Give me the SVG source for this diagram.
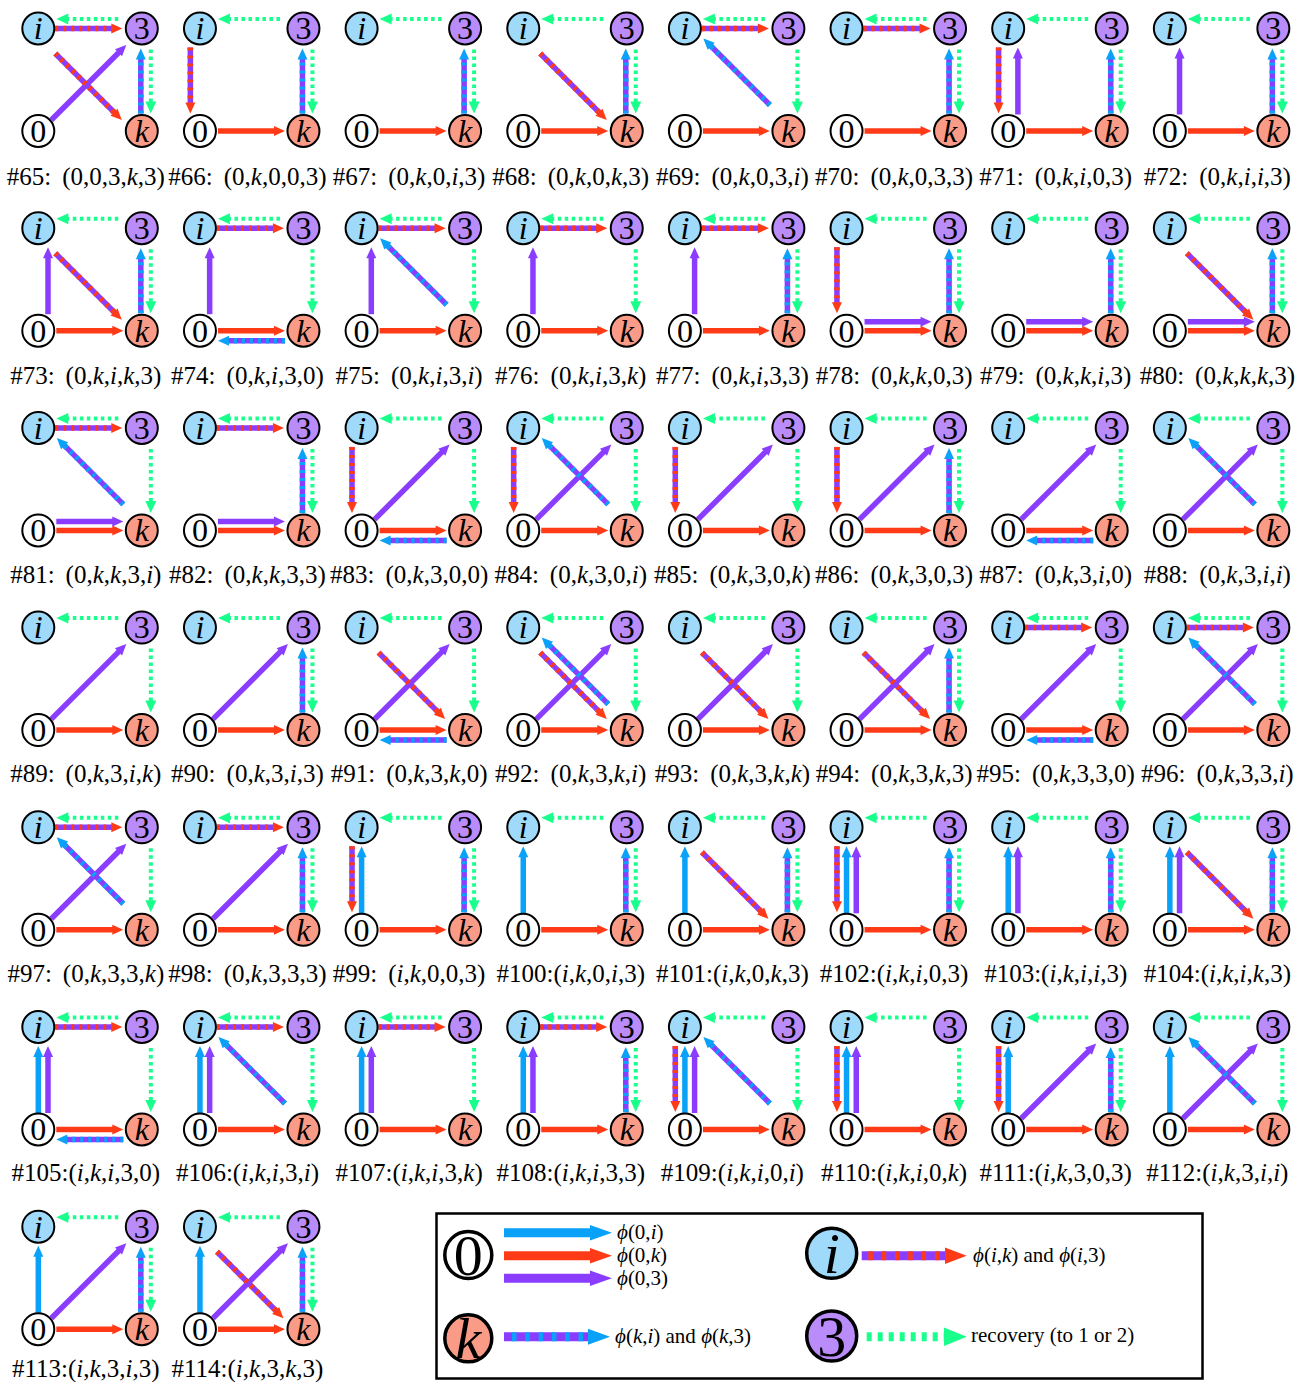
<svg xmlns="http://www.w3.org/2000/svg" width="1309" height="1382" viewBox="0 0 1309 1382">
<style>
.sp{stroke:#8a3cff;stroke-width:5.5}
.sr{stroke:#ff3b17;stroke-width:5.5}
.sb{stroke:#0aa2f8;stroke-width:5.5}
.dr{stroke:#ff3b17;stroke-width:5.5;stroke-dasharray:3 5}
.db{stroke:#0aa2f8;stroke-width:5.5;stroke-dasharray:3 5}
.gl{stroke:#19ff8c;stroke-width:4;stroke-dasharray:3.5 3.5}
.fr{fill:#ff3b17}.fb{fill:#0aa2f8}.fp{fill:#8a3cff}.fg{fill:#19ff8c}
circle{stroke:#000;stroke-width:2}
.ci{fill:#a0dafa}.c3{fill:#b98cfa}.ck{fill:#fa9b87}.c0{fill:#fff}
.nt{font-family:"Liberation Serif","Times New Roman",serif;font-size:32px;text-anchor:middle;fill:#000}
.it{font-style:italic}
.lb{font-family:"Liberation Serif","Times New Roman",serif;font-size:25px;text-anchor:middle;fill:#000}
.lg{font-family:"Liberation Serif","Times New Roman",serif;font-size:21px;fill:#000}
.big{font-family:"Liberation Serif","Times New Roman",serif;font-size:58px;text-anchor:middle;fill:#000}
.lc{stroke:#000;stroke-width:3.5}
</style>
<defs>
<g id="gt"><line class="gl" x1="80" y1="-9.5" x2="29" y2="-9.5"/><polygon class="fg" points="18,-9.5 30,-15 30,-4"/></g>
<g id="gr"><line class="gl" x1="112.5" y1="21" x2="112.5" y2="74"/><polygon class="fg" points="112.5,85 107,73 118,73"/></g>
<g id="r0k"><line class="sr" x1="18" y1="102.5" x2="75" y2="102.5"/><polygon class="fr" points="85,102.5 74,97.5 74,107.5"/></g>
<g id="p0k"><line class="sp" x1="18" y1="93.5" x2="75" y2="93.5"/><polygon class="fp" points="85,93.5 74,88.5 74,98.5"/></g>
<g id="b0i"><line class="sb" x1="0" y1="86" x2="0" y2="29"/><polygon class="fb" points="0,19 -5,30 5,30"/></g>
<g id="p0i"><line class="sp" x1="9.7" y1="86" x2="9.7" y2="29"/><polygon class="fp" points="9.7,19 4.7,30 14.7,30"/></g>
<g id="p03"><line class="sp" x1="13" y1="91.5" x2="81.5" y2="23"/><polygon class="fp" points="88,16.5 83.76,27.82 76.68,20.74"/></g>
<g id="dik"><line class="sp" x1="17" y1="25" x2="77" y2="85"/><line class="dr" x1="17" y1="25" x2="77" y2="85"/><polygon class="fr" points="83.5,91.5 72.18,87.26 79.26,80.18"/></g>
<g id="dki"><line class="sp" x1="85" y1="76.5" x2="25" y2="16.5"/><line class="db" x1="85" y1="76.5" x2="25" y2="16.5"/><polygon class="fb" points="18.5,10 29.82,14.24 22.74,21.32"/></g>
<g id="di0"><line class="sp" x1="-9.6" y1="19" x2="-9.6" y2="75"/><line class="dr" x1="-9.6" y1="19" x2="-9.6" y2="75"/><polygon class="fr" points="-9.6,85 -14.6,74 -4.6,74"/></g>
<g id="di3"><line class="sp" x1="17" y1="0" x2="74" y2="0"/><line class="dr" x1="17" y1="0" x2="74" y2="0"/><polygon class="fr" points="84,0 73,-5 73,5"/></g>
<g id="dk3"><line class="sp" x1="102.5" y1="85" x2="102.5" y2="30"/><line class="db" x1="102.5" y1="85" x2="102.5" y2="30"/><polygon class="fb" points="102.5,20 97.5,31 107.5,31"/></g>
<g id="dk0"><line class="sp" x1="85" y1="112.5" x2="28" y2="112.5"/><line class="db" x1="85" y1="112.5" x2="28" y2="112.5"/><polygon class="fb" points="18,112.5 29,107.5 29,117.5"/></g>
</defs>
<rect x="0" y="0" width="1309" height="1382" fill="#fff"/>

<g id="connectors">
<g id="e65" transform="translate(38.3,28.5)"><use href="#gt"/><use href="#gr"/><use href="#p03"/><use href="#dik"/><use href="#di3"/><use href="#dk3"/></g>
<g id="e66" transform="translate(199.95,28.5)"><use href="#gt"/><use href="#gr"/><use href="#r0k"/><use href="#di0"/><use href="#dk3"/></g>
<g id="e67" transform="translate(361.6,28.5)"><use href="#gt"/><use href="#gr"/><use href="#r0k"/><use href="#dk3"/></g>
<g id="e68" transform="translate(523.25,28.5)"><use href="#gt"/><use href="#gr"/><use href="#r0k"/><use href="#dik"/><use href="#dk3"/></g>
<g id="e69" transform="translate(684.9,28.5)"><use href="#gt"/><use href="#gr"/><use href="#r0k"/><use href="#di3"/><use href="#dki"/></g>
<g id="e70" transform="translate(846.55,28.5)"><use href="#gt"/><use href="#gr"/><use href="#r0k"/><use href="#di3"/><use href="#dk3"/></g>
<g id="e71" transform="translate(1008.2,28.5)"><use href="#gt"/><use href="#gr"/><use href="#r0k"/><use href="#p0i"/><use href="#di0"/><use href="#dk3"/></g>
<g id="e72" transform="translate(1169.85,28.5)"><use href="#gt"/><use href="#gr"/><use href="#r0k"/><use href="#p0i"/><use href="#dk3"/></g>

<g id="e73" transform="translate(38.3,228.2)"><use href="#gt"/><use href="#gr"/><use href="#r0k"/><use href="#p0i"/><use href="#dik"/><use href="#dk3"/></g>
<g id="e74" transform="translate(199.95,228.2)"><use href="#gt"/><use href="#gr"/><use href="#r0k"/><use href="#p0i"/><use href="#di3"/><use href="#dk0"/></g>
<g id="e75" transform="translate(361.6,228.2)"><use href="#gt"/><use href="#gr"/><use href="#r0k"/><use href="#p0i"/><use href="#di3"/><use href="#dki"/></g>
<g id="e76" transform="translate(523.25,228.2)"><use href="#gt"/><use href="#gr"/><use href="#r0k"/><use href="#p0i"/><use href="#di3"/></g>
<g id="e77" transform="translate(684.9,228.2)"><use href="#gt"/><use href="#gr"/><use href="#r0k"/><use href="#p0i"/><use href="#di3"/><use href="#dk3"/></g>
<g id="e78" transform="translate(846.55,228.2)"><use href="#gt"/><use href="#gr"/><use href="#r0k"/><use href="#p0k"/><use href="#di0"/><use href="#dk3"/></g>
<g id="e79" transform="translate(1008.2,228.2)"><use href="#gt"/><use href="#gr"/><use href="#r0k"/><use href="#p0k"/><use href="#dk3"/></g>
<g id="e80" transform="translate(1169.85,228.2)"><use href="#gt"/><use href="#gr"/><use href="#r0k"/><use href="#p0k"/><use href="#dik"/><use href="#dk3"/></g>

<g id="e81" transform="translate(38.3,427.9)"><use href="#gt"/><use href="#gr"/><use href="#r0k"/><use href="#p0k"/><use href="#di3"/><use href="#dki"/></g>
<g id="e82" transform="translate(199.95,427.9)"><use href="#gt"/><use href="#gr"/><use href="#r0k"/><use href="#p0k"/><use href="#di3"/><use href="#dk3"/></g>
<g id="e83" transform="translate(361.6,427.9)"><use href="#gt"/><use href="#gr"/><use href="#r0k"/><use href="#p03"/><use href="#di0"/><use href="#dk0"/></g>
<g id="e84" transform="translate(523.25,427.9)"><use href="#gt"/><use href="#gr"/><use href="#r0k"/><use href="#p03"/><use href="#di0"/><use href="#dki"/></g>
<g id="e85" transform="translate(684.9,427.9)"><use href="#gt"/><use href="#gr"/><use href="#r0k"/><use href="#p03"/><use href="#di0"/></g>
<g id="e86" transform="translate(846.55,427.9)"><use href="#gt"/><use href="#gr"/><use href="#r0k"/><use href="#p03"/><use href="#di0"/><use href="#dk3"/></g>
<g id="e87" transform="translate(1008.2,427.9)"><use href="#gt"/><use href="#gr"/><use href="#r0k"/><use href="#p03"/><use href="#dk0"/></g>
<g id="e88" transform="translate(1169.85,427.9)"><use href="#gt"/><use href="#gr"/><use href="#r0k"/><use href="#p03"/><use href="#dki"/></g>

<g id="e89" transform="translate(38.3,627.6)"><use href="#gt"/><use href="#gr"/><use href="#r0k"/><use href="#p03"/></g>
<g id="e90" transform="translate(199.95,627.6)"><use href="#gt"/><use href="#gr"/><use href="#r0k"/><use href="#p03"/><use href="#dk3"/></g>
<g id="e91" transform="translate(361.6,627.6)"><use href="#gt"/><use href="#gr"/><use href="#r0k"/><use href="#p03"/><use href="#dik"/><use href="#dk0"/></g>
<g id="e92" transform="translate(523.25,627.6)"><use href="#gt"/><use href="#gr"/><use href="#r0k"/><use href="#p03"/><use href="#dik"/><use href="#dki"/></g>
<g id="e93" transform="translate(684.9,627.6)"><use href="#gt"/><use href="#gr"/><use href="#r0k"/><use href="#p03"/><use href="#dik"/></g>
<g id="e94" transform="translate(846.55,627.6)"><use href="#gt"/><use href="#gr"/><use href="#r0k"/><use href="#p03"/><use href="#dik"/><use href="#dk3"/></g>
<g id="e95" transform="translate(1008.2,627.6)"><use href="#gt"/><use href="#gr"/><use href="#r0k"/><use href="#p03"/><use href="#di3"/><use href="#dk0"/></g>
<g id="e96" transform="translate(1169.85,627.6)"><use href="#gt"/><use href="#gr"/><use href="#r0k"/><use href="#p03"/><use href="#di3"/><use href="#dki"/></g>

<g id="e97" transform="translate(38.3,827.3)"><use href="#gt"/><use href="#gr"/><use href="#r0k"/><use href="#p03"/><use href="#di3"/><use href="#dki"/></g>
<g id="e98" transform="translate(199.95,827.3)"><use href="#gt"/><use href="#gr"/><use href="#r0k"/><use href="#p03"/><use href="#di3"/><use href="#dk3"/></g>
<g id="e99" transform="translate(361.6,827.3)"><use href="#gt"/><use href="#gr"/><use href="#r0k"/><use href="#b0i"/><use href="#di0"/><use href="#dk3"/></g>
<g id="e100" transform="translate(523.25,827.3)"><use href="#gt"/><use href="#gr"/><use href="#r0k"/><use href="#b0i"/><use href="#dk3"/></g>
<g id="e101" transform="translate(684.9,827.3)"><use href="#gt"/><use href="#gr"/><use href="#r0k"/><use href="#b0i"/><use href="#dik"/><use href="#dk3"/></g>
<g id="e102" transform="translate(846.55,827.3)"><use href="#gt"/><use href="#gr"/><use href="#r0k"/><use href="#b0i"/><use href="#p0i"/><use href="#di0"/><use href="#dk3"/></g>
<g id="e103" transform="translate(1008.2,827.3)"><use href="#gt"/><use href="#gr"/><use href="#r0k"/><use href="#b0i"/><use href="#p0i"/><use href="#dk3"/></g>
<g id="e104" transform="translate(1169.85,827.3)"><use href="#gt"/><use href="#gr"/><use href="#r0k"/><use href="#b0i"/><use href="#p0i"/><use href="#dik"/><use href="#dk3"/></g>

<g id="e105" transform="translate(38.3,1027)"><use href="#gt"/><use href="#gr"/><use href="#r0k"/><use href="#b0i"/><use href="#p0i"/><use href="#di3"/><use href="#dk0"/></g>
<g id="e106" transform="translate(199.95,1027)"><use href="#gt"/><use href="#gr"/><use href="#r0k"/><use href="#b0i"/><use href="#p0i"/><use href="#di3"/><use href="#dki"/></g>
<g id="e107" transform="translate(361.6,1027)"><use href="#gt"/><use href="#gr"/><use href="#r0k"/><use href="#b0i"/><use href="#p0i"/><use href="#di3"/></g>
<g id="e108" transform="translate(523.25,1027)"><use href="#gt"/><use href="#gr"/><use href="#r0k"/><use href="#b0i"/><use href="#p0i"/><use href="#di3"/><use href="#dk3"/></g>
<g id="e109" transform="translate(684.9,1027)"><use href="#gt"/><use href="#gr"/><use href="#r0k"/><use href="#b0i"/><use href="#p0i"/><use href="#di0"/><use href="#dki"/></g>
<g id="e110" transform="translate(846.55,1027)"><use href="#gt"/><use href="#gr"/><use href="#r0k"/><use href="#b0i"/><use href="#p0i"/><use href="#di0"/></g>
<g id="e111" transform="translate(1008.2,1027)"><use href="#gt"/><use href="#gr"/><use href="#r0k"/><use href="#b0i"/><use href="#p03"/><use href="#di0"/><use href="#dk3"/></g>
<g id="e112" transform="translate(1169.85,1027)"><use href="#gt"/><use href="#gr"/><use href="#r0k"/><use href="#b0i"/><use href="#p03"/><use href="#dki"/></g>

<g id="e113" transform="translate(38.3,1226.7)"><use href="#gt"/><use href="#gr"/><use href="#r0k"/><use href="#b0i"/><use href="#p03"/><use href="#dk3"/></g>
<g id="e114" transform="translate(199.95,1226.7)"><use href="#gt"/><use href="#gr"/><use href="#r0k"/><use href="#b0i"/><use href="#p03"/><use href="#dik"/><use href="#dk3"/></g>
</g>

<g id="nodes">
<g id="n65" transform="translate(38.3,28.5)"><g id="n65-i"><circle class="ci" r="16"/><text class="nt it" y="10.8">i</text></g><g id="n65-3" transform="translate(103.5,0)"><circle class="c3" r="16"/><text class="nt" y="10.8">3</text></g><g id="n65-0" transform="translate(0,102.5)"><circle class="c0" r="16"/><text class="nt" y="10.8">0</text></g><g id="n65-k" transform="translate(103.5,102.5)"><circle class="ck" r="16"/><text class="nt it" y="10.8">k</text></g></g>
<g id="n66" transform="translate(199.95,28.5)"><g id="n66-i"><circle class="ci" r="16"/><text class="nt it" y="10.8">i</text></g><g id="n66-3" transform="translate(103.5,0)"><circle class="c3" r="16"/><text class="nt" y="10.8">3</text></g><g id="n66-0" transform="translate(0,102.5)"><circle class="c0" r="16"/><text class="nt" y="10.8">0</text></g><g id="n66-k" transform="translate(103.5,102.5)"><circle class="ck" r="16"/><text class="nt it" y="10.8">k</text></g></g>
<g id="n67" transform="translate(361.6,28.5)"><g id="n67-i"><circle class="ci" r="16"/><text class="nt it" y="10.8">i</text></g><g id="n67-3" transform="translate(103.5,0)"><circle class="c3" r="16"/><text class="nt" y="10.8">3</text></g><g id="n67-0" transform="translate(0,102.5)"><circle class="c0" r="16"/><text class="nt" y="10.8">0</text></g><g id="n67-k" transform="translate(103.5,102.5)"><circle class="ck" r="16"/><text class="nt it" y="10.8">k</text></g></g>
<g id="n68" transform="translate(523.25,28.5)"><g id="n68-i"><circle class="ci" r="16"/><text class="nt it" y="10.8">i</text></g><g id="n68-3" transform="translate(103.5,0)"><circle class="c3" r="16"/><text class="nt" y="10.8">3</text></g><g id="n68-0" transform="translate(0,102.5)"><circle class="c0" r="16"/><text class="nt" y="10.8">0</text></g><g id="n68-k" transform="translate(103.5,102.5)"><circle class="ck" r="16"/><text class="nt it" y="10.8">k</text></g></g>
<g id="n69" transform="translate(684.9,28.5)"><g id="n69-i"><circle class="ci" r="16"/><text class="nt it" y="10.8">i</text></g><g id="n69-3" transform="translate(103.5,0)"><circle class="c3" r="16"/><text class="nt" y="10.8">3</text></g><g id="n69-0" transform="translate(0,102.5)"><circle class="c0" r="16"/><text class="nt" y="10.8">0</text></g><g id="n69-k" transform="translate(103.5,102.5)"><circle class="ck" r="16"/><text class="nt it" y="10.8">k</text></g></g>
<g id="n70" transform="translate(846.55,28.5)"><g id="n70-i"><circle class="ci" r="16"/><text class="nt it" y="10.8">i</text></g><g id="n70-3" transform="translate(103.5,0)"><circle class="c3" r="16"/><text class="nt" y="10.8">3</text></g><g id="n70-0" transform="translate(0,102.5)"><circle class="c0" r="16"/><text class="nt" y="10.8">0</text></g><g id="n70-k" transform="translate(103.5,102.5)"><circle class="ck" r="16"/><text class="nt it" y="10.8">k</text></g></g>
<g id="n71" transform="translate(1008.2,28.5)"><g id="n71-i"><circle class="ci" r="16"/><text class="nt it" y="10.8">i</text></g><g id="n71-3" transform="translate(103.5,0)"><circle class="c3" r="16"/><text class="nt" y="10.8">3</text></g><g id="n71-0" transform="translate(0,102.5)"><circle class="c0" r="16"/><text class="nt" y="10.8">0</text></g><g id="n71-k" transform="translate(103.5,102.5)"><circle class="ck" r="16"/><text class="nt it" y="10.8">k</text></g></g>
<g id="n72" transform="translate(1169.85,28.5)"><g id="n72-i"><circle class="ci" r="16"/><text class="nt it" y="10.8">i</text></g><g id="n72-3" transform="translate(103.5,0)"><circle class="c3" r="16"/><text class="nt" y="10.8">3</text></g><g id="n72-0" transform="translate(0,102.5)"><circle class="c0" r="16"/><text class="nt" y="10.8">0</text></g><g id="n72-k" transform="translate(103.5,102.5)"><circle class="ck" r="16"/><text class="nt it" y="10.8">k</text></g></g>

<g id="n73" transform="translate(38.3,228.2)"><g id="n73-i"><circle class="ci" r="16"/><text class="nt it" y="10.8">i</text></g><g id="n73-3" transform="translate(103.5,0)"><circle class="c3" r="16"/><text class="nt" y="10.8">3</text></g><g id="n73-0" transform="translate(0,102.5)"><circle class="c0" r="16"/><text class="nt" y="10.8">0</text></g><g id="n73-k" transform="translate(103.5,102.5)"><circle class="ck" r="16"/><text class="nt it" y="10.8">k</text></g></g>
<g id="n74" transform="translate(199.95,228.2)"><g id="n74-i"><circle class="ci" r="16"/><text class="nt it" y="10.8">i</text></g><g id="n74-3" transform="translate(103.5,0)"><circle class="c3" r="16"/><text class="nt" y="10.8">3</text></g><g id="n74-0" transform="translate(0,102.5)"><circle class="c0" r="16"/><text class="nt" y="10.8">0</text></g><g id="n74-k" transform="translate(103.5,102.5)"><circle class="ck" r="16"/><text class="nt it" y="10.8">k</text></g></g>
<g id="n75" transform="translate(361.6,228.2)"><g id="n75-i"><circle class="ci" r="16"/><text class="nt it" y="10.8">i</text></g><g id="n75-3" transform="translate(103.5,0)"><circle class="c3" r="16"/><text class="nt" y="10.8">3</text></g><g id="n75-0" transform="translate(0,102.5)"><circle class="c0" r="16"/><text class="nt" y="10.8">0</text></g><g id="n75-k" transform="translate(103.5,102.5)"><circle class="ck" r="16"/><text class="nt it" y="10.8">k</text></g></g>
<g id="n76" transform="translate(523.25,228.2)"><g id="n76-i"><circle class="ci" r="16"/><text class="nt it" y="10.8">i</text></g><g id="n76-3" transform="translate(103.5,0)"><circle class="c3" r="16"/><text class="nt" y="10.8">3</text></g><g id="n76-0" transform="translate(0,102.5)"><circle class="c0" r="16"/><text class="nt" y="10.8">0</text></g><g id="n76-k" transform="translate(103.5,102.5)"><circle class="ck" r="16"/><text class="nt it" y="10.8">k</text></g></g>
<g id="n77" transform="translate(684.9,228.2)"><g id="n77-i"><circle class="ci" r="16"/><text class="nt it" y="10.8">i</text></g><g id="n77-3" transform="translate(103.5,0)"><circle class="c3" r="16"/><text class="nt" y="10.8">3</text></g><g id="n77-0" transform="translate(0,102.5)"><circle class="c0" r="16"/><text class="nt" y="10.8">0</text></g><g id="n77-k" transform="translate(103.5,102.5)"><circle class="ck" r="16"/><text class="nt it" y="10.8">k</text></g></g>
<g id="n78" transform="translate(846.55,228.2)"><g id="n78-i"><circle class="ci" r="16"/><text class="nt it" y="10.8">i</text></g><g id="n78-3" transform="translate(103.5,0)"><circle class="c3" r="16"/><text class="nt" y="10.8">3</text></g><g id="n78-0" transform="translate(0,102.5)"><circle class="c0" r="16"/><text class="nt" y="10.8">0</text></g><g id="n78-k" transform="translate(103.5,102.5)"><circle class="ck" r="16"/><text class="nt it" y="10.8">k</text></g></g>
<g id="n79" transform="translate(1008.2,228.2)"><g id="n79-i"><circle class="ci" r="16"/><text class="nt it" y="10.8">i</text></g><g id="n79-3" transform="translate(103.5,0)"><circle class="c3" r="16"/><text class="nt" y="10.8">3</text></g><g id="n79-0" transform="translate(0,102.5)"><circle class="c0" r="16"/><text class="nt" y="10.8">0</text></g><g id="n79-k" transform="translate(103.5,102.5)"><circle class="ck" r="16"/><text class="nt it" y="10.8">k</text></g></g>
<g id="n80" transform="translate(1169.85,228.2)"><g id="n80-i"><circle class="ci" r="16"/><text class="nt it" y="10.8">i</text></g><g id="n80-3" transform="translate(103.5,0)"><circle class="c3" r="16"/><text class="nt" y="10.8">3</text></g><g id="n80-0" transform="translate(0,102.5)"><circle class="c0" r="16"/><text class="nt" y="10.8">0</text></g><g id="n80-k" transform="translate(103.5,102.5)"><circle class="ck" r="16"/><text class="nt it" y="10.8">k</text></g></g>

<g id="n81" transform="translate(38.3,427.9)"><g id="n81-i"><circle class="ci" r="16"/><text class="nt it" y="10.8">i</text></g><g id="n81-3" transform="translate(103.5,0)"><circle class="c3" r="16"/><text class="nt" y="10.8">3</text></g><g id="n81-0" transform="translate(0,102.5)"><circle class="c0" r="16"/><text class="nt" y="10.8">0</text></g><g id="n81-k" transform="translate(103.5,102.5)"><circle class="ck" r="16"/><text class="nt it" y="10.8">k</text></g></g>
<g id="n82" transform="translate(199.95,427.9)"><g id="n82-i"><circle class="ci" r="16"/><text class="nt it" y="10.8">i</text></g><g id="n82-3" transform="translate(103.5,0)"><circle class="c3" r="16"/><text class="nt" y="10.8">3</text></g><g id="n82-0" transform="translate(0,102.5)"><circle class="c0" r="16"/><text class="nt" y="10.8">0</text></g><g id="n82-k" transform="translate(103.5,102.5)"><circle class="ck" r="16"/><text class="nt it" y="10.8">k</text></g></g>
<g id="n83" transform="translate(361.6,427.9)"><g id="n83-i"><circle class="ci" r="16"/><text class="nt it" y="10.8">i</text></g><g id="n83-3" transform="translate(103.5,0)"><circle class="c3" r="16"/><text class="nt" y="10.8">3</text></g><g id="n83-0" transform="translate(0,102.5)"><circle class="c0" r="16"/><text class="nt" y="10.8">0</text></g><g id="n83-k" transform="translate(103.5,102.5)"><circle class="ck" r="16"/><text class="nt it" y="10.8">k</text></g></g>
<g id="n84" transform="translate(523.25,427.9)"><g id="n84-i"><circle class="ci" r="16"/><text class="nt it" y="10.8">i</text></g><g id="n84-3" transform="translate(103.5,0)"><circle class="c3" r="16"/><text class="nt" y="10.8">3</text></g><g id="n84-0" transform="translate(0,102.5)"><circle class="c0" r="16"/><text class="nt" y="10.8">0</text></g><g id="n84-k" transform="translate(103.5,102.5)"><circle class="ck" r="16"/><text class="nt it" y="10.8">k</text></g></g>
<g id="n85" transform="translate(684.9,427.9)"><g id="n85-i"><circle class="ci" r="16"/><text class="nt it" y="10.8">i</text></g><g id="n85-3" transform="translate(103.5,0)"><circle class="c3" r="16"/><text class="nt" y="10.8">3</text></g><g id="n85-0" transform="translate(0,102.5)"><circle class="c0" r="16"/><text class="nt" y="10.8">0</text></g><g id="n85-k" transform="translate(103.5,102.5)"><circle class="ck" r="16"/><text class="nt it" y="10.8">k</text></g></g>
<g id="n86" transform="translate(846.55,427.9)"><g id="n86-i"><circle class="ci" r="16"/><text class="nt it" y="10.8">i</text></g><g id="n86-3" transform="translate(103.5,0)"><circle class="c3" r="16"/><text class="nt" y="10.8">3</text></g><g id="n86-0" transform="translate(0,102.5)"><circle class="c0" r="16"/><text class="nt" y="10.8">0</text></g><g id="n86-k" transform="translate(103.5,102.5)"><circle class="ck" r="16"/><text class="nt it" y="10.8">k</text></g></g>
<g id="n87" transform="translate(1008.2,427.9)"><g id="n87-i"><circle class="ci" r="16"/><text class="nt it" y="10.8">i</text></g><g id="n87-3" transform="translate(103.5,0)"><circle class="c3" r="16"/><text class="nt" y="10.8">3</text></g><g id="n87-0" transform="translate(0,102.5)"><circle class="c0" r="16"/><text class="nt" y="10.8">0</text></g><g id="n87-k" transform="translate(103.5,102.5)"><circle class="ck" r="16"/><text class="nt it" y="10.8">k</text></g></g>
<g id="n88" transform="translate(1169.85,427.9)"><g id="n88-i"><circle class="ci" r="16"/><text class="nt it" y="10.8">i</text></g><g id="n88-3" transform="translate(103.5,0)"><circle class="c3" r="16"/><text class="nt" y="10.8">3</text></g><g id="n88-0" transform="translate(0,102.5)"><circle class="c0" r="16"/><text class="nt" y="10.8">0</text></g><g id="n88-k" transform="translate(103.5,102.5)"><circle class="ck" r="16"/><text class="nt it" y="10.8">k</text></g></g>

<g id="n89" transform="translate(38.3,627.6)"><g id="n89-i"><circle class="ci" r="16"/><text class="nt it" y="10.8">i</text></g><g id="n89-3" transform="translate(103.5,0)"><circle class="c3" r="16"/><text class="nt" y="10.8">3</text></g><g id="n89-0" transform="translate(0,102.5)"><circle class="c0" r="16"/><text class="nt" y="10.8">0</text></g><g id="n89-k" transform="translate(103.5,102.5)"><circle class="ck" r="16"/><text class="nt it" y="10.8">k</text></g></g>
<g id="n90" transform="translate(199.95,627.6)"><g id="n90-i"><circle class="ci" r="16"/><text class="nt it" y="10.8">i</text></g><g id="n90-3" transform="translate(103.5,0)"><circle class="c3" r="16"/><text class="nt" y="10.8">3</text></g><g id="n90-0" transform="translate(0,102.5)"><circle class="c0" r="16"/><text class="nt" y="10.8">0</text></g><g id="n90-k" transform="translate(103.5,102.5)"><circle class="ck" r="16"/><text class="nt it" y="10.8">k</text></g></g>
<g id="n91" transform="translate(361.6,627.6)"><g id="n91-i"><circle class="ci" r="16"/><text class="nt it" y="10.8">i</text></g><g id="n91-3" transform="translate(103.5,0)"><circle class="c3" r="16"/><text class="nt" y="10.8">3</text></g><g id="n91-0" transform="translate(0,102.5)"><circle class="c0" r="16"/><text class="nt" y="10.8">0</text></g><g id="n91-k" transform="translate(103.5,102.5)"><circle class="ck" r="16"/><text class="nt it" y="10.8">k</text></g></g>
<g id="n92" transform="translate(523.25,627.6)"><g id="n92-i"><circle class="ci" r="16"/><text class="nt it" y="10.8">i</text></g><g id="n92-3" transform="translate(103.5,0)"><circle class="c3" r="16"/><text class="nt" y="10.8">3</text></g><g id="n92-0" transform="translate(0,102.5)"><circle class="c0" r="16"/><text class="nt" y="10.8">0</text></g><g id="n92-k" transform="translate(103.5,102.5)"><circle class="ck" r="16"/><text class="nt it" y="10.8">k</text></g></g>
<g id="n93" transform="translate(684.9,627.6)"><g id="n93-i"><circle class="ci" r="16"/><text class="nt it" y="10.8">i</text></g><g id="n93-3" transform="translate(103.5,0)"><circle class="c3" r="16"/><text class="nt" y="10.8">3</text></g><g id="n93-0" transform="translate(0,102.5)"><circle class="c0" r="16"/><text class="nt" y="10.8">0</text></g><g id="n93-k" transform="translate(103.5,102.5)"><circle class="ck" r="16"/><text class="nt it" y="10.8">k</text></g></g>
<g id="n94" transform="translate(846.55,627.6)"><g id="n94-i"><circle class="ci" r="16"/><text class="nt it" y="10.8">i</text></g><g id="n94-3" transform="translate(103.5,0)"><circle class="c3" r="16"/><text class="nt" y="10.8">3</text></g><g id="n94-0" transform="translate(0,102.5)"><circle class="c0" r="16"/><text class="nt" y="10.8">0</text></g><g id="n94-k" transform="translate(103.5,102.5)"><circle class="ck" r="16"/><text class="nt it" y="10.8">k</text></g></g>
<g id="n95" transform="translate(1008.2,627.6)"><g id="n95-i"><circle class="ci" r="16"/><text class="nt it" y="10.8">i</text></g><g id="n95-3" transform="translate(103.5,0)"><circle class="c3" r="16"/><text class="nt" y="10.8">3</text></g><g id="n95-0" transform="translate(0,102.5)"><circle class="c0" r="16"/><text class="nt" y="10.8">0</text></g><g id="n95-k" transform="translate(103.5,102.5)"><circle class="ck" r="16"/><text class="nt it" y="10.8">k</text></g></g>
<g id="n96" transform="translate(1169.85,627.6)"><g id="n96-i"><circle class="ci" r="16"/><text class="nt it" y="10.8">i</text></g><g id="n96-3" transform="translate(103.5,0)"><circle class="c3" r="16"/><text class="nt" y="10.8">3</text></g><g id="n96-0" transform="translate(0,102.5)"><circle class="c0" r="16"/><text class="nt" y="10.8">0</text></g><g id="n96-k" transform="translate(103.5,102.5)"><circle class="ck" r="16"/><text class="nt it" y="10.8">k</text></g></g>

<g id="n97" transform="translate(38.3,827.3)"><g id="n97-i"><circle class="ci" r="16"/><text class="nt it" y="10.8">i</text></g><g id="n97-3" transform="translate(103.5,0)"><circle class="c3" r="16"/><text class="nt" y="10.8">3</text></g><g id="n97-0" transform="translate(0,102.5)"><circle class="c0" r="16"/><text class="nt" y="10.8">0</text></g><g id="n97-k" transform="translate(103.5,102.5)"><circle class="ck" r="16"/><text class="nt it" y="10.8">k</text></g></g>
<g id="n98" transform="translate(199.95,827.3)"><g id="n98-i"><circle class="ci" r="16"/><text class="nt it" y="10.8">i</text></g><g id="n98-3" transform="translate(103.5,0)"><circle class="c3" r="16"/><text class="nt" y="10.8">3</text></g><g id="n98-0" transform="translate(0,102.5)"><circle class="c0" r="16"/><text class="nt" y="10.8">0</text></g><g id="n98-k" transform="translate(103.5,102.5)"><circle class="ck" r="16"/><text class="nt it" y="10.8">k</text></g></g>
<g id="n99" transform="translate(361.6,827.3)"><g id="n99-i"><circle class="ci" r="16"/><text class="nt it" y="10.8">i</text></g><g id="n99-3" transform="translate(103.5,0)"><circle class="c3" r="16"/><text class="nt" y="10.8">3</text></g><g id="n99-0" transform="translate(0,102.5)"><circle class="c0" r="16"/><text class="nt" y="10.8">0</text></g><g id="n99-k" transform="translate(103.5,102.5)"><circle class="ck" r="16"/><text class="nt it" y="10.8">k</text></g></g>
<g id="n100" transform="translate(523.25,827.3)"><g id="n100-i"><circle class="ci" r="16"/><text class="nt it" y="10.8">i</text></g><g id="n100-3" transform="translate(103.5,0)"><circle class="c3" r="16"/><text class="nt" y="10.8">3</text></g><g id="n100-0" transform="translate(0,102.5)"><circle class="c0" r="16"/><text class="nt" y="10.8">0</text></g><g id="n100-k" transform="translate(103.5,102.5)"><circle class="ck" r="16"/><text class="nt it" y="10.8">k</text></g></g>
<g id="n101" transform="translate(684.9,827.3)"><g id="n101-i"><circle class="ci" r="16"/><text class="nt it" y="10.8">i</text></g><g id="n101-3" transform="translate(103.5,0)"><circle class="c3" r="16"/><text class="nt" y="10.8">3</text></g><g id="n101-0" transform="translate(0,102.5)"><circle class="c0" r="16"/><text class="nt" y="10.8">0</text></g><g id="n101-k" transform="translate(103.5,102.5)"><circle class="ck" r="16"/><text class="nt it" y="10.8">k</text></g></g>
<g id="n102" transform="translate(846.55,827.3)"><g id="n102-i"><circle class="ci" r="16"/><text class="nt it" y="10.8">i</text></g><g id="n102-3" transform="translate(103.5,0)"><circle class="c3" r="16"/><text class="nt" y="10.8">3</text></g><g id="n102-0" transform="translate(0,102.5)"><circle class="c0" r="16"/><text class="nt" y="10.8">0</text></g><g id="n102-k" transform="translate(103.5,102.5)"><circle class="ck" r="16"/><text class="nt it" y="10.8">k</text></g></g>
<g id="n103" transform="translate(1008.2,827.3)"><g id="n103-i"><circle class="ci" r="16"/><text class="nt it" y="10.8">i</text></g><g id="n103-3" transform="translate(103.5,0)"><circle class="c3" r="16"/><text class="nt" y="10.8">3</text></g><g id="n103-0" transform="translate(0,102.5)"><circle class="c0" r="16"/><text class="nt" y="10.8">0</text></g><g id="n103-k" transform="translate(103.5,102.5)"><circle class="ck" r="16"/><text class="nt it" y="10.8">k</text></g></g>
<g id="n104" transform="translate(1169.85,827.3)"><g id="n104-i"><circle class="ci" r="16"/><text class="nt it" y="10.8">i</text></g><g id="n104-3" transform="translate(103.5,0)"><circle class="c3" r="16"/><text class="nt" y="10.8">3</text></g><g id="n104-0" transform="translate(0,102.5)"><circle class="c0" r="16"/><text class="nt" y="10.8">0</text></g><g id="n104-k" transform="translate(103.5,102.5)"><circle class="ck" r="16"/><text class="nt it" y="10.8">k</text></g></g>

<g id="n105" transform="translate(38.3,1027)"><g id="n105-i"><circle class="ci" r="16"/><text class="nt it" y="10.8">i</text></g><g id="n105-3" transform="translate(103.5,0)"><circle class="c3" r="16"/><text class="nt" y="10.8">3</text></g><g id="n105-0" transform="translate(0,102.5)"><circle class="c0" r="16"/><text class="nt" y="10.8">0</text></g><g id="n105-k" transform="translate(103.5,102.5)"><circle class="ck" r="16"/><text class="nt it" y="10.8">k</text></g></g>
<g id="n106" transform="translate(199.95,1027)"><g id="n106-i"><circle class="ci" r="16"/><text class="nt it" y="10.8">i</text></g><g id="n106-3" transform="translate(103.5,0)"><circle class="c3" r="16"/><text class="nt" y="10.8">3</text></g><g id="n106-0" transform="translate(0,102.5)"><circle class="c0" r="16"/><text class="nt" y="10.8">0</text></g><g id="n106-k" transform="translate(103.5,102.5)"><circle class="ck" r="16"/><text class="nt it" y="10.8">k</text></g></g>
<g id="n107" transform="translate(361.6,1027)"><g id="n107-i"><circle class="ci" r="16"/><text class="nt it" y="10.8">i</text></g><g id="n107-3" transform="translate(103.5,0)"><circle class="c3" r="16"/><text class="nt" y="10.8">3</text></g><g id="n107-0" transform="translate(0,102.5)"><circle class="c0" r="16"/><text class="nt" y="10.8">0</text></g><g id="n107-k" transform="translate(103.5,102.5)"><circle class="ck" r="16"/><text class="nt it" y="10.8">k</text></g></g>
<g id="n108" transform="translate(523.25,1027)"><g id="n108-i"><circle class="ci" r="16"/><text class="nt it" y="10.8">i</text></g><g id="n108-3" transform="translate(103.5,0)"><circle class="c3" r="16"/><text class="nt" y="10.8">3</text></g><g id="n108-0" transform="translate(0,102.5)"><circle class="c0" r="16"/><text class="nt" y="10.8">0</text></g><g id="n108-k" transform="translate(103.5,102.5)"><circle class="ck" r="16"/><text class="nt it" y="10.8">k</text></g></g>
<g id="n109" transform="translate(684.9,1027)"><g id="n109-i"><circle class="ci" r="16"/><text class="nt it" y="10.8">i</text></g><g id="n109-3" transform="translate(103.5,0)"><circle class="c3" r="16"/><text class="nt" y="10.8">3</text></g><g id="n109-0" transform="translate(0,102.5)"><circle class="c0" r="16"/><text class="nt" y="10.8">0</text></g><g id="n109-k" transform="translate(103.5,102.5)"><circle class="ck" r="16"/><text class="nt it" y="10.8">k</text></g></g>
<g id="n110" transform="translate(846.55,1027)"><g id="n110-i"><circle class="ci" r="16"/><text class="nt it" y="10.8">i</text></g><g id="n110-3" transform="translate(103.5,0)"><circle class="c3" r="16"/><text class="nt" y="10.8">3</text></g><g id="n110-0" transform="translate(0,102.5)"><circle class="c0" r="16"/><text class="nt" y="10.8">0</text></g><g id="n110-k" transform="translate(103.5,102.5)"><circle class="ck" r="16"/><text class="nt it" y="10.8">k</text></g></g>
<g id="n111" transform="translate(1008.2,1027)"><g id="n111-i"><circle class="ci" r="16"/><text class="nt it" y="10.8">i</text></g><g id="n111-3" transform="translate(103.5,0)"><circle class="c3" r="16"/><text class="nt" y="10.8">3</text></g><g id="n111-0" transform="translate(0,102.5)"><circle class="c0" r="16"/><text class="nt" y="10.8">0</text></g><g id="n111-k" transform="translate(103.5,102.5)"><circle class="ck" r="16"/><text class="nt it" y="10.8">k</text></g></g>
<g id="n112" transform="translate(1169.85,1027)"><g id="n112-i"><circle class="ci" r="16"/><text class="nt it" y="10.8">i</text></g><g id="n112-3" transform="translate(103.5,0)"><circle class="c3" r="16"/><text class="nt" y="10.8">3</text></g><g id="n112-0" transform="translate(0,102.5)"><circle class="c0" r="16"/><text class="nt" y="10.8">0</text></g><g id="n112-k" transform="translate(103.5,102.5)"><circle class="ck" r="16"/><text class="nt it" y="10.8">k</text></g></g>

<g id="n113" transform="translate(38.3,1226.7)"><g id="n113-i"><circle class="ci" r="16"/><text class="nt it" y="10.8">i</text></g><g id="n113-3" transform="translate(103.5,0)"><circle class="c3" r="16"/><text class="nt" y="10.8">3</text></g><g id="n113-0" transform="translate(0,102.5)"><circle class="c0" r="16"/><text class="nt" y="10.8">0</text></g><g id="n113-k" transform="translate(103.5,102.5)"><circle class="ck" r="16"/><text class="nt it" y="10.8">k</text></g></g>
<g id="n114" transform="translate(199.95,1226.7)"><g id="n114-i"><circle class="ci" r="16"/><text class="nt it" y="10.8">i</text></g><g id="n114-3" transform="translate(103.5,0)"><circle class="c3" r="16"/><text class="nt" y="10.8">3</text></g><g id="n114-0" transform="translate(0,102.5)"><circle class="c0" r="16"/><text class="nt" y="10.8">0</text></g><g id="n114-k" transform="translate(103.5,102.5)"><circle class="ck" r="16"/><text class="nt it" y="10.8">k</text></g></g>
</g>

<g id="labels">
<text class="lb" x="85.8" y="184.5">#65:<tspan dx="11">(0,0,3,<tspan class="it">k</tspan>,3)</tspan></text>
<text class="lb" x="247.45" y="184.5">#66:<tspan dx="11">(0,<tspan class="it">k</tspan>,0,0,3)</tspan></text>
<text class="lb" x="409.1" y="184.5">#67:<tspan dx="11">(0,<tspan class="it">k</tspan>,0,<tspan class="it">i</tspan>,3)</tspan></text>
<text class="lb" x="570.75" y="184.5">#68:<tspan dx="11">(0,<tspan class="it">k</tspan>,0,<tspan class="it">k</tspan>,3)</tspan></text>
<text class="lb" x="732.4" y="184.5">#69:<tspan dx="11">(0,<tspan class="it">k</tspan>,0,3,<tspan class="it">i</tspan>)</tspan></text>
<text class="lb" x="894.05" y="184.5">#70:<tspan dx="11">(0,<tspan class="it">k</tspan>,0,3,3)</tspan></text>
<text class="lb" x="1055.7" y="184.5">#71:<tspan dx="11">(0,<tspan class="it">k</tspan>,<tspan class="it">i</tspan>,0,3)</tspan></text>
<text class="lb" x="1217.35" y="184.5">#72:<tspan dx="11">(0,<tspan class="it">k</tspan>,<tspan class="it">i</tspan>,<tspan class="it">i</tspan>,3)</tspan></text>

<text class="lb" x="85.8" y="383.7">#73:<tspan dx="11">(0,<tspan class="it">k</tspan>,<tspan class="it">i</tspan>,<tspan class="it">k</tspan>,3)</tspan></text>
<text class="lb" x="247.45" y="383.7">#74:<tspan dx="11">(0,<tspan class="it">k</tspan>,<tspan class="it">i</tspan>,3,0)</tspan></text>
<text class="lb" x="409.1" y="383.7">#75:<tspan dx="11">(0,<tspan class="it">k</tspan>,<tspan class="it">i</tspan>,3,<tspan class="it">i</tspan>)</tspan></text>
<text class="lb" x="570.75" y="383.7">#76:<tspan dx="11">(0,<tspan class="it">k</tspan>,<tspan class="it">i</tspan>,3,<tspan class="it">k</tspan>)</tspan></text>
<text class="lb" x="732.4" y="383.7">#77:<tspan dx="11">(0,<tspan class="it">k</tspan>,<tspan class="it">i</tspan>,3,3)</tspan></text>
<text class="lb" x="894.05" y="383.7">#78:<tspan dx="11">(0,<tspan class="it">k</tspan>,<tspan class="it">k</tspan>,0,3)</tspan></text>
<text class="lb" x="1055.7" y="383.7">#79:<tspan dx="11">(0,<tspan class="it">k</tspan>,<tspan class="it">k</tspan>,<tspan class="it">i</tspan>,3)</tspan></text>
<text class="lb" x="1217.35" y="383.7">#80:<tspan dx="11">(0,<tspan class="it">k</tspan>,<tspan class="it">k</tspan>,<tspan class="it">k</tspan>,3)</tspan></text>

<text class="lb" x="85.8" y="582.9">#81:<tspan dx="11">(0,<tspan class="it">k</tspan>,<tspan class="it">k</tspan>,3,<tspan class="it">i</tspan>)</tspan></text>
<text class="lb" x="247.45" y="582.9">#82:<tspan dx="11">(0,<tspan class="it">k</tspan>,<tspan class="it">k</tspan>,3,3)</tspan></text>
<text class="lb" x="409.1" y="582.9">#83:<tspan dx="11">(0,<tspan class="it">k</tspan>,3,0,0)</tspan></text>
<text class="lb" x="570.75" y="582.9">#84:<tspan dx="11">(0,<tspan class="it">k</tspan>,3,0,<tspan class="it">i</tspan>)</tspan></text>
<text class="lb" x="732.4" y="582.9">#85:<tspan dx="11">(0,<tspan class="it">k</tspan>,3,0,<tspan class="it">k</tspan>)</tspan></text>
<text class="lb" x="894.05" y="582.9">#86:<tspan dx="11">(0,<tspan class="it">k</tspan>,3,0,3)</tspan></text>
<text class="lb" x="1055.7" y="582.9">#87:<tspan dx="11">(0,<tspan class="it">k</tspan>,3,<tspan class="it">i</tspan>,0)</tspan></text>
<text class="lb" x="1217.35" y="582.9">#88:<tspan dx="11">(0,<tspan class="it">k</tspan>,3,<tspan class="it">i</tspan>,<tspan class="it">i</tspan>)</tspan></text>

<text class="lb" x="85.8" y="782.2">#89:<tspan dx="11">(0,<tspan class="it">k</tspan>,3,<tspan class="it">i</tspan>,<tspan class="it">k</tspan>)</tspan></text>
<text class="lb" x="247.45" y="782.2">#90:<tspan dx="11">(0,<tspan class="it">k</tspan>,3,<tspan class="it">i</tspan>,3)</tspan></text>
<text class="lb" x="409.1" y="782.2">#91:<tspan dx="11">(0,<tspan class="it">k</tspan>,3,<tspan class="it">k</tspan>,0)</tspan></text>
<text class="lb" x="570.75" y="782.2">#92:<tspan dx="11">(0,<tspan class="it">k</tspan>,3,<tspan class="it">k</tspan>,<tspan class="it">i</tspan>)</tspan></text>
<text class="lb" x="732.4" y="782.2">#93:<tspan dx="11">(0,<tspan class="it">k</tspan>,3,<tspan class="it">k</tspan>,<tspan class="it">k</tspan>)</tspan></text>
<text class="lb" x="894.05" y="782.2">#94:<tspan dx="11">(0,<tspan class="it">k</tspan>,3,<tspan class="it">k</tspan>,3)</tspan></text>
<text class="lb" x="1055.7" y="782.2">#95:<tspan dx="11">(0,<tspan class="it">k</tspan>,3,3,0)</tspan></text>
<text class="lb" x="1217.35" y="782.2">#96:<tspan dx="11">(0,<tspan class="it">k</tspan>,3,3,<tspan class="it">i</tspan>)</tspan></text>

<text class="lb" x="85.8" y="981.5">#97:<tspan dx="11">(0,<tspan class="it">k</tspan>,3,3,<tspan class="it">k</tspan>)</tspan></text>
<text class="lb" x="247.45" y="981.5">#98:<tspan dx="11">(0,<tspan class="it">k</tspan>,3,3,3)</tspan></text>
<text class="lb" x="409.1" y="981.5">#99:<tspan dx="11">(<tspan class="it">i</tspan>,<tspan class="it">k</tspan>,0,0,3)</tspan></text>
<text class="lb" x="570.75" y="981.5">#100:(<tspan class="it">i</tspan>,<tspan class="it">k</tspan>,0,<tspan class="it">i</tspan>,3)</text>
<text class="lb" x="732.4" y="981.5">#101:(<tspan class="it">i</tspan>,<tspan class="it">k</tspan>,0,<tspan class="it">k</tspan>,3)</text>
<text class="lb" x="894.05" y="981.5">#102:(<tspan class="it">i</tspan>,<tspan class="it">k</tspan>,<tspan class="it">i</tspan>,0,3)</text>
<text class="lb" x="1055.7" y="981.5">#103:(<tspan class="it">i</tspan>,<tspan class="it">k</tspan>,<tspan class="it">i</tspan>,<tspan class="it">i</tspan>,3)</text>
<text class="lb" x="1217.35" y="981.5">#104:(<tspan class="it">i</tspan>,<tspan class="it">k</tspan>,<tspan class="it">i</tspan>,<tspan class="it">k</tspan>,3)</text>

<text class="lb" x="85.8" y="1180.7">#105:(<tspan class="it">i</tspan>,<tspan class="it">k</tspan>,<tspan class="it">i</tspan>,3,0)</text>
<text class="lb" x="247.45" y="1180.7">#106:(<tspan class="it">i</tspan>,<tspan class="it">k</tspan>,<tspan class="it">i</tspan>,3,<tspan class="it">i</tspan>)</text>
<text class="lb" x="409.1" y="1180.7">#107:(<tspan class="it">i</tspan>,<tspan class="it">k</tspan>,<tspan class="it">i</tspan>,3,<tspan class="it">k</tspan>)</text>
<text class="lb" x="570.75" y="1180.7">#108:(<tspan class="it">i</tspan>,<tspan class="it">k</tspan>,<tspan class="it">i</tspan>,3,3)</text>
<text class="lb" x="732.4" y="1180.7">#109:(<tspan class="it">i</tspan>,<tspan class="it">k</tspan>,<tspan class="it">i</tspan>,0,<tspan class="it">i</tspan>)</text>
<text class="lb" x="894.05" y="1180.7">#110:(<tspan class="it">i</tspan>,<tspan class="it">k</tspan>,<tspan class="it">i</tspan>,0,<tspan class="it">k</tspan>)</text>
<text class="lb" x="1055.7" y="1180.7">#111:(<tspan class="it">i</tspan>,<tspan class="it">k</tspan>,3,0,3)</text>
<text class="lb" x="1217.35" y="1180.7">#112:(<tspan class="it">i</tspan>,<tspan class="it">k</tspan>,3,<tspan class="it">i</tspan>,<tspan class="it">i</tspan>)</text>

<text class="lb" x="85.8" y="1376.5">#113:(<tspan class="it">i</tspan>,<tspan class="it">k</tspan>,3,<tspan class="it">i</tspan>,3)</text>
<text class="lb" x="247.45" y="1376.5">#114:(<tspan class="it">i</tspan>,<tspan class="it">k</tspan>,3,<tspan class="it">k</tspan>,3)</text>
</g>

<g id="legend">
<rect x="436.5" y="1213.5" width="766" height="165" fill="#fff" stroke="#000" stroke-width="2.5"/>
<g id="legend-arrows">
<line x1="504" y1="1232.7" x2="592" y2="1232.7" stroke="#0aa2f8" stroke-width="9"/><polygon class="fb" points="612,1232.7 590,1224.9 590,1240.5"/>
<line x1="504" y1="1255.7" x2="592" y2="1255.7" stroke="#ff3b17" stroke-width="9"/><polygon class="fr" points="612,1255.7 590,1247.9 590,1263.5"/>
<line x1="504" y1="1278.3" x2="592" y2="1278.3" stroke="#8a3cff" stroke-width="9"/><polygon class="fp" points="612,1278.3 590,1270.5 590,1286.1"/>
<line x1="504" y1="1336.7" x2="590" y2="1336.7" stroke="#8a3cff" stroke-width="9"/><line x1="504" y1="1336.7" x2="590" y2="1336.7" stroke="#0aa2f8" stroke-width="9" stroke-dasharray="4.5 8.8" stroke-dashoffset="5.3"/><polygon class="fb" points="610,1336.7 588,1328.7 588,1344.7"/>
<line x1="861.7" y1="1255.7" x2="947" y2="1255.7" stroke="#8a3cff" stroke-width="9"/><line x1="861.7" y1="1255.7" x2="947" y2="1255.7" stroke="#ff3b17" stroke-width="9" stroke-dasharray="4.5 8.8" stroke-dashoffset="6.6"/><polygon class="fr" points="966.7,1255.7 945,1247.4 945,1264"/>
<line x1="866.7" y1="1336.7" x2="946" y2="1336.7" stroke="#19ff8c" stroke-width="9" stroke-dasharray="5 6"/><polygon class="fg" points="966.7,1336.7 944,1327.5 944,1346"/>
</g>
<g id="legend-0"><circle class="c0 lc" cx="468.3" cy="1255" r="23.5"/><text class="big" x="468.3" y="1274.5">0</text></g>
<g id="legend-k"><circle class="ck lc" cx="468.3" cy="1338.3" r="23.5"/><text class="big it" x="468.3" y="1357.8">k</text></g>
<g id="legend-i"><circle class="ci lc" cx="831.7" cy="1253.3" r="25"/><text class="big it" x="831.7" y="1272.8">i</text></g>
<g id="legend-3"><circle class="c3 lc" cx="831.7" cy="1336" r="25"/><text class="big" x="831.7" y="1355.5">3</text></g>
<text class="lg" x="617" y="1239"><tspan class="it">ϕ</tspan>(0,<tspan class="it">i</tspan>)</text>
<text class="lg" x="617" y="1262"><tspan class="it">ϕ</tspan>(0,<tspan class="it">k</tspan>)</text>
<text class="lg" x="617" y="1285"><tspan class="it">ϕ</tspan>(0,3)</text>
<text class="lg" x="615" y="1343"><tspan class="it">ϕ</tspan>(<tspan class="it">k</tspan>,<tspan class="it">i</tspan>) and <tspan class="it">ϕ</tspan>(<tspan class="it">k</tspan>,3)</text>
<text class="lg" x="973" y="1262"><tspan class="it">ϕ</tspan>(<tspan class="it">i</tspan>,<tspan class="it">k</tspan>) and <tspan class="it">ϕ</tspan>(<tspan class="it">i</tspan>,3)</text>
<text class="lg" x="971" y="1342">recovery (to 1 or 2)</text>
</g>
</svg>
